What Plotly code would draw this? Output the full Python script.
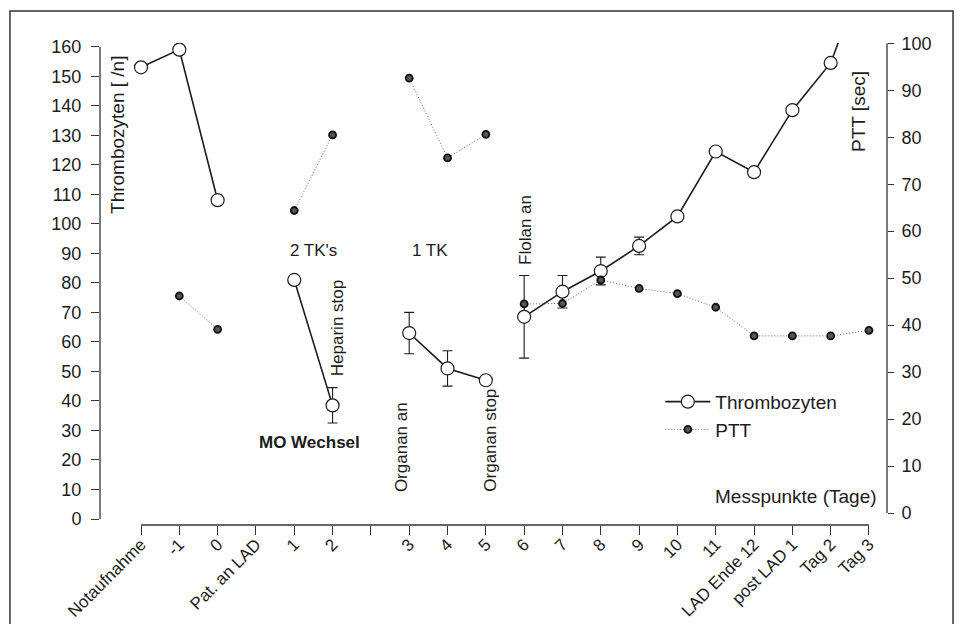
import plotly.graph_objects as go

# ---------------- data ----------------
positions = list(range(20))
tick_labels = ["Notaufnahme", "-1", "0", "Pat. an LAD", "1", "2", "", "3", "4", "5",
               "6", "7", "8", "9", "10", "11", "LAD Ende 12", "post LAD 1", "Tag 2", "Tag 3"]

thromb = [153, 159, 108, None, 81, 38.5, None, 63, 51, 47,
          68.5, 77, 84, 92.5, 102.5, 124.5, 117.5, 138.5, 154.5, 189]
thromb_err = [0, 0, 0, None, 0, 6, None, 7, 6, 0,
              14, 5.5, 4.7, 3, 0, 0, 0, 0, 0, 0]
thromb_seg = [1, 1, 1, None, 2, 2, None, 3, 3, 3,
              4, 4, 4, 4, 4, 4, 4, 4, 4, 4]

ptt = [None, 46.2, 39.1, None, 64.4, 80.5, None, 92.6, 75.6, 80.6,
       44.5, 44.6, 49.6, 47.8, 46.7, 43.8, 37.7, 37.7, 37.7, 38.9]
ptt_seg = [None, 1, 1, None, 2, 2, None, 3, 3, 3,
           4, 4, 4, 4, 4, 4, 4, 4, 4, 4]

left_ticks = list(range(0, 161, 10))
right_ticks = list(range(0, 101, 10))


def segmented(xs, ys, segs, errs=None):
    ox, oy, oe = [], [], []
    last = None
    for i, (x, y, s) in enumerate(zip(xs, ys, segs)):
        if y is None or s is None:
            continue
        if last is not None and s != last:
            ox.append(None); oy.append(None); oe.append(None)
        ox.append(x); oy.append(y); oe.append(errs[i] if errs else None)
        last = s
    return ox, oy, oe


tx, ty, te = segmented(positions, thromb, thromb_seg, thromb_err)
px, py, _ = segmented(positions, ptt, ptt_seg)

FONT = "Liberation Sans, Arial, sans-serif"
INK = "#1c1c1c"

fig = go.Figure()
fig.add_trace(go.Scatter(
    x=tx, y=ty, name="Thrombozyten", mode="lines+markers",
    line=dict(color=INK, width=1.6),
    marker=dict(symbol="circle", size=13, color="white", line=dict(color=INK, width=1.2)),
    error_y=dict(type="data", array=te, visible=True, color=INK, thickness=1.1, width=5),
    connectgaps=False, yaxis="y"))
fig.add_trace(go.Scatter(
    x=px, y=py, name="PTT", mode="lines+markers",
    line=dict(color="#666", width=1, dash="1px,2px"),
    marker=dict(symbol="circle", size=7, color="#555", line=dict(color="#111", width=1.8)),
    connectgaps=False, yaxis="y2"))

annots = [
    dict(text="2 TK's", x=4.49, y=91.1, angle=0),
    dict(text="1 TK", x=7.53, y=91.1, angle=0),
    dict(text="Heparin stop", x=5.12, y=64.7, angle=-90),
    dict(text="<b>MO Wechsel</b>", x=4.40, y=26.0, angle=0),
    dict(text="Organan an", x=6.80, y=24.2, angle=-90),
    dict(text="Organan stop", x=9.13, y=26.8, angle=-90),
    dict(text="Flolan an", x=10.02, y=97.9, angle=-90),
]
annotations = []
for a in annots:
    annotations.append(dict(text=a["text"], x=a["x"], y=a["y"], xref="x", yref="y",
                            textangle=a["angle"], showarrow=False,
                            font=dict(family=FONT, size=17, color=INK)))
annotations += [
    dict(text="Messpunkte (Tage)", x=17.09, y=7.55, xref="x", yref="y", showarrow=False,
         font=dict(family=FONT, size=19, color=INK)),
    dict(text="Thrombozyten [ /n]", x=-0.60, y=130.1, xref="x", yref="y", textangle=-90,
         showarrow=False, font=dict(family=FONT, size=19, color=INK)),
    dict(text="PTT [sec]", x=18.74, y=137.9, xref="x", yref="y", textangle=-90,
         showarrow=False, font=dict(family=FONT, size=19, color=INK)),
]

shapes = [
    # outer frame
    dict(type="rect", xref="paper", yref="paper", x0=-0.1144, x1=1.0839, y0=-0.2095, y1=1.0664,
         line=dict(color="#333", width=1.5)),
    # left axis line
    dict(type="line", xref="paper", yref="y", x0=0, x1=0, y0=0, y1=160,
         line=dict(color="#333", width=1.3)),
    # right axis line
    dict(type="line", xref="paper", yref="y2", x0=1, x1=1, y0=0, y1=100,
         line=dict(color="#333", width=1.3)),
    # x axis line
    dict(type="line", xref="x", yref="paper", x0=0, x1=19, y0=0, y1=0,
         line=dict(color="#333", width=1.3)),
]

fig.update_layout(
    width=961, height=624,
    margin=dict(l=100, r=74, t=43, b=99, autoexpand=False),
    paper_bgcolor="white", plot_bgcolor="white",
    font=dict(family=FONT, size=18, color=INK),
    xaxis=dict(range=[-1.07, 19.47], tickvals=positions, ticktext=tick_labels,
               tickangle=-45, ticks="outside", ticklen=9, tickcolor="#333", tickwidth=1.3,
               showgrid=False, zeroline=False, showline=False, automargin=False,
               ticklabelstandoff=-7,
               tickfont=dict(family=FONT, size=17, color=INK)),
    yaxis=dict(range=[-2.03, 161.25], tickvals=left_ticks, ticks="outside", ticklen=8,
               tickcolor="#333", tickwidth=1.3, showgrid=False, zeroline=False, showline=False,
               automargin=False, ticklabelstandoff=6,
               tickfont=dict(family=FONT, size=18, color=INK)),
    yaxis2=dict(range=[-2.555, 100.06], tickvals=right_ticks, overlaying="y", side="right",
                ticks="outside", ticklen=6, tickcolor="#333", tickwidth=1.3,
                showgrid=False, zeroline=False, showline=False, automargin=False,
                ticklabelstandoff=4, tickfont=dict(family=FONT, size=18, color=INK)),
    legend=dict(x=0.712, y=0.295, xanchor="left", yanchor="top", bgcolor="rgba(0,0,0,0)",
                font=dict(family=FONT, size=19, color=INK), itemwidth=45,
                tracegroupgap=0),
    annotations=annotations, shapes=shapes,
)

fig.write_html("out.html", config={"displayModeBar": False},
               post_script="document.body.style.margin='0';document.body.style.overflow='hidden';")
